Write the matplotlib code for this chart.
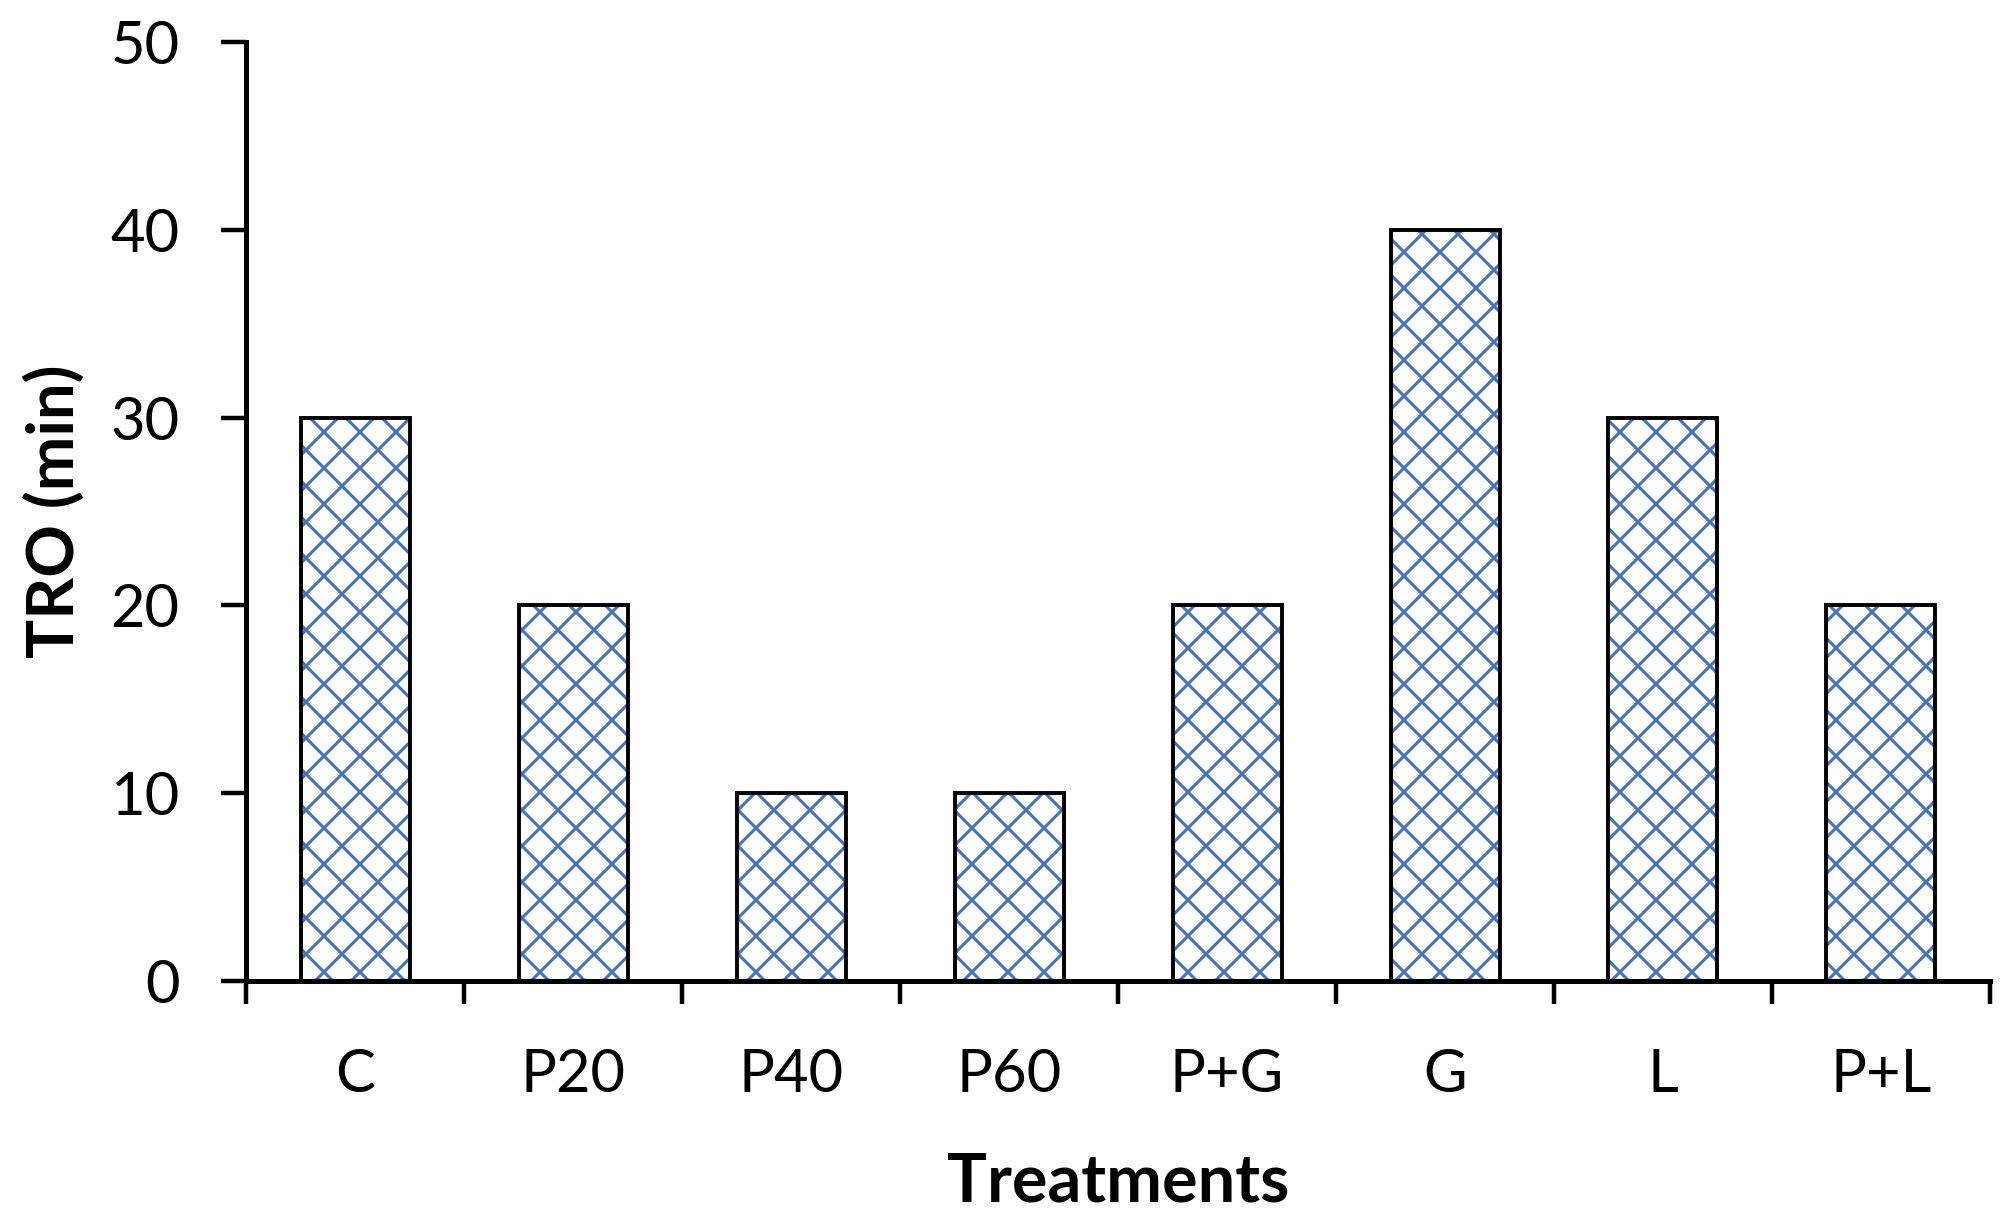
import numpy as np
import matplotlib
matplotlib.use("Agg")
from matplotlib import pyplot as plt

treatments = ["C", "P20", "P40", "P60", "P+G", "G", "L", "P+L"]
tro_min = [30, 20, 10, 10, 20, 40, 30, 20]
y_ticks = [0, 10, 20, 30, 40, 50]

DPI = 216
s = 200 / DPI  # sizes below were tuned at 200 dpi

plt.rcParams['font.family'] = ['Lato', 'DejaVu Sans']
plt.rcParams['hatch.linewidth'] = 1.1 * s

fig = plt.figure(figsize=(2004 / DPI, 1224 / DPI), dpi=DPI)
ax = fig.add_axes([0.1228, 0.1985, 0.993 - 0.1228, 0.9657 - 0.1985])

x = np.arange(len(treatments))
# hatch layer in blue, outline in black on top
ax.bar(x, tro_min, width=0.5, color="white", edgecolor="#4472C4",
       hatch="xx", linewidth=0, zorder=2)
ax.bar(x, tro_min, width=0.5, fill=False, edgecolor="black",
       linewidth=1.4 * s, zorder=3)

ax.set_xlim(-0.5, len(treatments) - 0.5)
ax.set_ylim(0, 50)
ax.set_yticks(y_ticks)

# major ticks at category boundaries, labels at centres
ax.set_xticks(np.arange(len(treatments) + 1) - 0.5)
ax.set_xticklabels([])
ax.set_xticks(x, minor=True)
ax.set_xticklabels(treatments, minor=True)
ax.tick_params(axis="x", which="minor", length=0, pad=24 * s, labelsize=21.5 * s)
ax.tick_params(axis="x", which="major", direction="out", length=8.3 * s,
               width=1.6 * s)
ax.tick_params(axis="y", direction="out", length=9 * s, width=1.6 * s,
               pad=15 * s, labelsize=21.5 * s)

for side in ["top", "right"]:
    ax.spines[side].set_visible(False)
for side in ["left", "bottom"]:
    ax.spines[side].set_linewidth(1.8 * s)

ax.set_xlabel("Treatments", fontsize=24 * s, fontweight="bold", labelpad=18 * s)
ax.set_ylabel("TRO (min)", fontsize=23.5 * s, fontweight="bold", labelpad=9 * s)

fig.savefig("out.png", dpi=DPI)
